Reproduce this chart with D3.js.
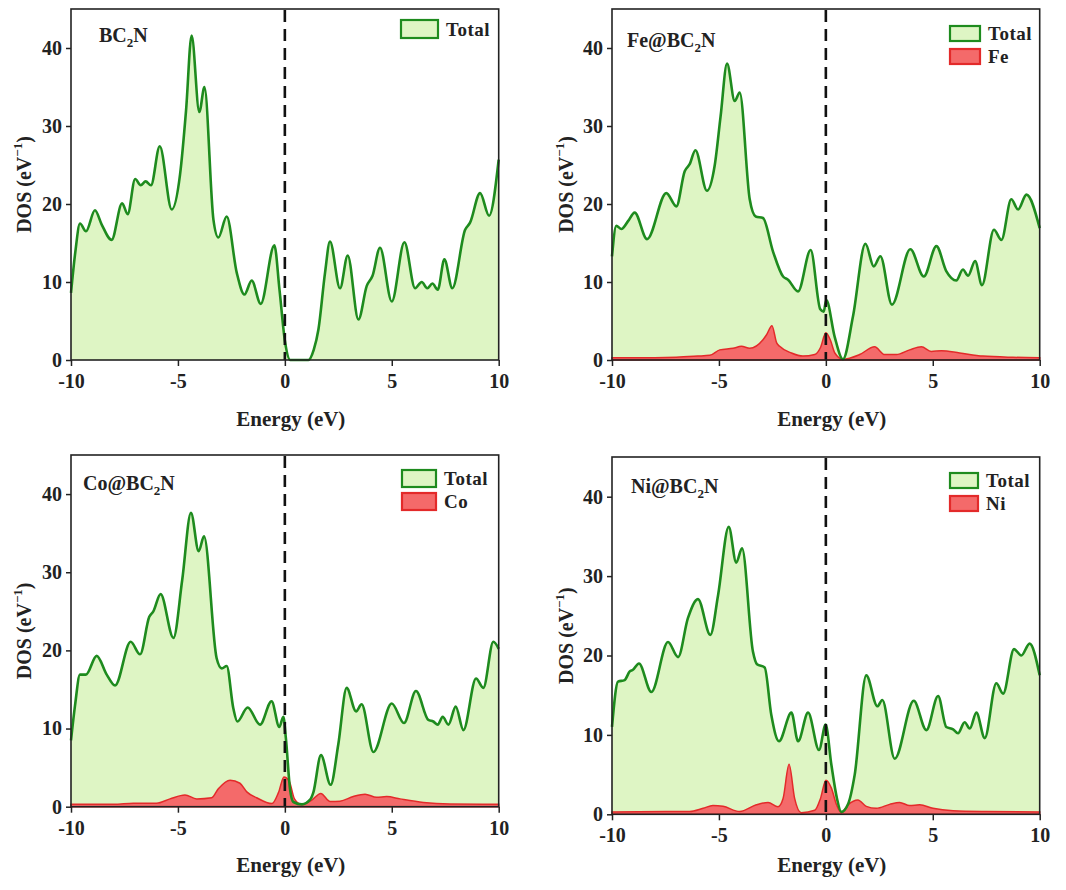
<!DOCTYPE html>
<html>
<head>
<meta charset="utf-8">
<script src="https://cdn.jsdelivr.net/npm/d3@7"></script>
<style>
  body { margin: 0; background: #fff; }
  svg { display: block; }
  text { font-family: "Liberation Serif", "Times New Roman", serif; font-weight: bold; fill: #222; }
</style>
</head>
<body>
<svg id="chart" width="1066" height="890"></svg>
<script>
// energy (eV), DOS (eV^-1)
const bc2nTotal = [[-10,8.6],[-9.8,13.8],[-9.58,17.5],[-9.3,16.5],[-8.88,19.2],[-8.57,17.4],[-8.1,15.4],[-7.61,20.1],[-7.35,18.7],[-7.0,23.2],[-6.74,22.4],[-6.51,22.9],[-6.26,22.4],[-5.85,27.4],[-5.29,19.3],[-4.9,23.8],[-4.62,32],[-4.36,41.6],[-4.0,31.8],[-3.76,35.0],[-3.34,18.0],[-3.11,15.7],[-2.72,18.4],[-2.25,11.2],[-1.89,8.4],[-1.55,10.2],[-1.13,7.2],[-0.49,14.7],[-0.25,9.0],[0,2.5],[0.25,0],[1.1,0],[1.35,1.3],[1.57,3.9],[1.88,11.2],[2.11,15.2],[2.58,9.2],[2.94,13.4],[3.44,5.2],[3.83,9.5],[4.1,10.8],[4.45,14.4],[5.0,7.5],[5.59,15.1],[6.09,9.2],[6.4,10.0],[6.66,9.2],[6.9,9.8],[7.15,9.0],[7.46,12.9],[7.83,9.2],[8.43,16.7],[8.66,17.6],[9.13,21.4],[9.55,18.5],[10,25.7]];

const feTotal = [[-10,13.3],[-9.8,17.2],[-9.56,16.8],[-9.25,17.8],[-8.94,18.9],[-8.36,15.5],[-7.46,21.4],[-6.99,19.7],[-6.6,24.2],[-6.37,25.1],[-6.1,26.9],[-5.56,21.7],[-5.2,24.9],[-4.92,31.3],[-4.62,38.0],[-4.26,33.2],[-4.03,34.3],[-3.56,20.6],[-3.28,18.4],[-2.94,18.2],[-2.47,13.9],[-2.0,10.7],[-1.77,10.3],[-1.3,8.8],[-0.71,14.1],[-0.26,6.5],[-0.1,6.2],[0.02,7.7],[0.41,3.0],[0.8,0.1],[1.27,5.6],[1.85,14.9],[2.24,12.0],[2.55,13.3],[3.09,7.1],[3.95,14.2],[4.58,10.7],[5.17,14.6],[5.63,11.4],[6.1,10.2],[6.41,11.6],[6.65,10.8],[6.98,12.7],[7.3,9.6],[7.86,16.7],[8.21,15.4],[8.67,20.6],[8.99,19.3],[9.38,21.2],[10,16.9]];
const fePdos = [[-10,0.3],[-8,0.3],[-7,0.35],[-6,0.5],[-5.43,0.6],[-4.96,1.3],[-4.34,1.5],[-3.95,1.75],[-3.56,1.5],[-2.94,2.6],[-2.78,3.2],[-2.52,4.4],[-2.3,2.2],[-2.16,1.75],[-1.61,0.9],[-1.07,0.5],[-0.52,0.7],[-0.25,1.6],[0,3.5],[0.22,2.5],[0.42,0.9],[0.8,0.1],[1.58,0.7],[2.28,1.7],[2.75,0.7],[3.3,0.7],[3.92,1.3],[4.47,1.7],[4.93,1.1],[5.4,1.2],[6.26,0.9],[7.35,0.5],[8.75,0.35],[10,0.3]];

const coTotal = [[-10,8.5],[-9.81,13],[-9.58,16.9],[-9.3,16.9],[-8.8,19.3],[-8.33,16.9],[-7.94,15.5],[-7.21,21.1],[-6.77,19.5],[-6.34,24.3],[-6.15,25.0],[-5.81,27.2],[-5.21,21.6],[-4.8,29],[-4.39,37.6],[-4.03,32.7],[-3.78,34.6],[-3.19,19.0],[-2.95,17.7],[-2.72,18.0],[-2.41,12.6],[-2.22,10.9],[-1.74,12.7],[-1.16,10.5],[-0.62,13.5],[-0.26,10.2],[-0.07,11.5],[0.05,8.7],[0.24,2.3],[0.4,0.6],[0.8,0.3],[1.18,0.9],[1.33,1.8],[1.69,6.6],[2.14,2.8],[2.5,8],[2.89,15.2],[3.33,12.2],[3.59,13.1],[4.14,7.0],[5.0,13.2],[5.57,10.7],[6.13,14.8],[6.71,11.1],[6.94,10.9],[7.15,10.5],[7.38,11.5],[7.65,10.5],[7.99,12.8],[8.35,9.8],[8.94,16.4],[9.28,15.2],[9.75,21.1],[10,20.2]];
const coPdos = [[-10,0.3],[-8,0.3],[-7.08,0.45],[-6,0.45],[-5.37,1.0],[-4.67,1.5],[-4.12,1.0],[-3.42,1.15],[-3.11,2.3],[-2.56,3.4],[-2.1,3.0],[-1.78,1.9],[-1.32,1.15],[-0.6,0.4],[-0.3,1.8],[-0.04,3.8],[0.2,3.3],[0.45,1.0],[0.77,0.3],[1.26,0.85],[1.68,1.7],[2.12,0.65],[2.58,0.7],[3.2,1.3],[3.75,1.6],[4.29,1.2],[4.76,1.3],[5.39,1.0],[6.48,0.55],[7.72,0.35],[10,0.3]];

const niTotal = [[-10,11.0],[-9.72,16.7],[-9.41,16.9],[-9.17,18.0],[-9.02,18.2],[-8.74,19.0],[-8.16,15.4],[-7.38,21.7],[-6.91,19.8],[-6.45,24.7],[-5.98,27.1],[-5.4,22.6],[-5.04,27.6],[-4.54,36.2],[-4.19,31.7],[-3.92,33.5],[-3.41,20.5],[-3.22,18.9],[-2.86,18.5],[-2.55,12.5],[-2.19,9.2],[-1.61,12.8],[-1.3,9.2],[-0.83,12.8],[-0.32,8.1],[-0.01,11.3],[0.26,6.2],[0.52,2.0],[0.72,0.3],[1.04,1.3],[1.35,5.0],[1.89,17.5],[2.41,13.6],[2.64,14.4],[3.22,7.0],[4.11,14.3],[4.7,10.6],[5.25,14.9],[5.63,11.0],[5.95,10.7],[6.18,10.2],[6.49,11.6],[6.73,10.8],[7.04,12.8],[7.43,9.6],[7.97,16.5],[8.29,15.2],[8.8,20.8],[9.14,20.0],[9.53,21.5],[10,17.5]];
const niPdos = [[-10,0.3],[-7.46,0.35],[-6.37,0.35],[-5.74,0.75],[-5.28,1.1],[-4.81,1.0],[-4.03,0.35],[-3.25,1.2],[-2.7,1.5],[-2.24,0.95],[-2.0,2.0],[-1.72,6.3],[-1.46,2.0],[-1.15,0.2],[-0.52,0.5],[-0.25,2.0],[0,4.3],[0.26,3.3],[0.5,1.2],[0.72,0.2],[1.04,1.2],[1.5,1.8],[1.89,1.0],[2.36,0.75],[2.98,1.25],[3.45,1.5],[3.92,1.1],[4.39,1.2],[5.01,0.75],[5.95,0.45],[7.5,0.35],[10,0.3]];

const xTicks = [-10, -5, 0, 5, 10];
const yTicks = [0, 10, 20, 30, 40];

const panels = [
  {metal: null, total: bc2nTotal, pdos: null,
   box: [71, 498.7, 9, 360], title: [99, 42], legend: [401, 20, 37, 18], ylab: 24, xlab: 426},
  {metal: "Fe", total: feTotal, pdos: fePdos,
   box: [612, 1039.7, 9, 360], title: [627, 47], legend: [950, 26, 30, 15], ylab: 566, xlab: 426},
  {metal: "Co", total: coTotal, pdos: coPdos,
   box: [71, 498.7, 455, 806.7], title: [83, 490], legend: [402, 470, 34, 17], ylab: 24, xlab: 872},
  {metal: "Ni", total: niTotal, pdos: niPdos,
   box: [612, 1039.7, 457, 814.3], title: [631, 493], legend: [950, 473, 28, 15], ylab: 566, xlab: 872}
];

const green = "#1e8b1e", lightGreen = "#def5c4", red = "#e32a2a", lightRed = "#f46a6a";
const svg = d3.select("#chart");

panels.forEach(p => {
  const [x0, x1, y0, y1] = p.box;
  const x = d3.scaleLinear().domain([-10, 10]).range([x0, x1]);
  const y = d3.scaleLinear().domain([0, 45]).range([y1, y0]);
  const g = svg.append("g");

  const area = d3.area().curve(d3.curveMonotoneX)
      .x(d => x(d[0])).y0(y(0)).y1(d => y(d[1]));
  const line = d3.line().curve(d3.curveMonotoneX)
      .x(d => x(d[0])).y(d => y(d[1]));

  g.append("path").datum(p.total).attr("d", area).attr("fill", lightGreen);
  if (p.pdos) {
    g.append("path").datum(p.pdos).attr("d", area)
      .attr("fill", lightRed).attr("stroke", red).attr("stroke-width", 1.5);
  }
  g.append("path").datum(p.total).attr("d", line)
    .attr("fill", "none").attr("stroke", green).attr("stroke-width", 2.6);

  // Fermi level
  g.append("line")
    .attr("x1", x(0)).attr("x2", x(0)).attr("y1", y0 + 1).attr("y2", y1)
    .attr("stroke", "#111").attr("stroke-width", 2.6).attr("stroke-dasharray", "12,7");

  // axes
  const xa = g.append("g").attr("transform", `translate(0,${y1})`)
    .call(d3.axisBottom(x).tickValues(xTicks).tickSize(6).tickPadding(8).tickSizeOuter(0));
  const ya = g.append("g").attr("transform", `translate(${x0},0)`)
    .call(d3.axisLeft(y).tickValues(yTicks).tickSize(5).tickPadding(4).tickSizeOuter(0));
  [xa, ya].forEach(a => {
    a.select(".domain").remove();
    a.selectAll("line").attr("stroke", "#222").attr("stroke-width", 1.5);
    a.selectAll("text").attr("font-size", 20).attr("fill", "#222")
      .attr("font-family", "Liberation Serif, Times New Roman, serif").attr("font-weight", "bold");
  });
  xa.selectAll("text").text(d => d);

  g.append("rect").attr("x", x0).attr("y", y0).attr("width", x1 - x0).attr("height", y1 - y0)
    .attr("fill", "none").attr("stroke", "#222").attr("stroke-width", 1.6);

  // axis titles
  g.append("text").attr("x", (x0 + x1) / 2 + 6).attr("y", p.xlab)
    .attr("text-anchor", "middle").attr("font-size", 21).text("Energy (eV)");
  const yl = g.append("text")
    .attr("transform", `translate(${p.ylab},${(y0 + y1) / 2}) rotate(-90)`)
    .attr("text-anchor", "middle").attr("dy", "0.35em").attr("font-size", 20);
  yl.append("tspan").text("DOS (eV");
  yl.append("tspan").attr("font-size", 13).attr("dy", -9).text("\u22121");
  yl.append("tspan").attr("dy", 9).text(")");

  // panel title
  const t = g.append("text").attr("x", p.title[0]).attr("y", p.title[1]).attr("font-size", 20);
  t.append("tspan").text((p.metal ? p.metal + "@" : "") + "BC");
  t.append("tspan").attr("font-size", 13).attr("dy", 5).text("2");
  t.append("tspan").attr("dy", -5).text("N");

  // legend
  const [lx, ly, lw, lh] = p.legend;
  const items = [{name: "Total", fill: lightGreen, stroke: green}];
  if (p.metal) items.push({name: p.metal, fill: lightRed, stroke: red});
  items.forEach((it, i) => {
    const yy = ly + i * 23;
    g.append("rect").attr("x", lx).attr("y", yy).attr("width", lw).attr("height", lh)
      .attr("fill", it.fill).attr("stroke", it.stroke).attr("stroke-width", 2.2);
    g.append("text").attr("x", lx + lw + 8).attr("y", yy + lh / 2).attr("dy", "0.35em")
      .attr("font-size", 19).attr("letter-spacing", 0.5).text(it.name);
  });
});
</script>
</body>
</html>
